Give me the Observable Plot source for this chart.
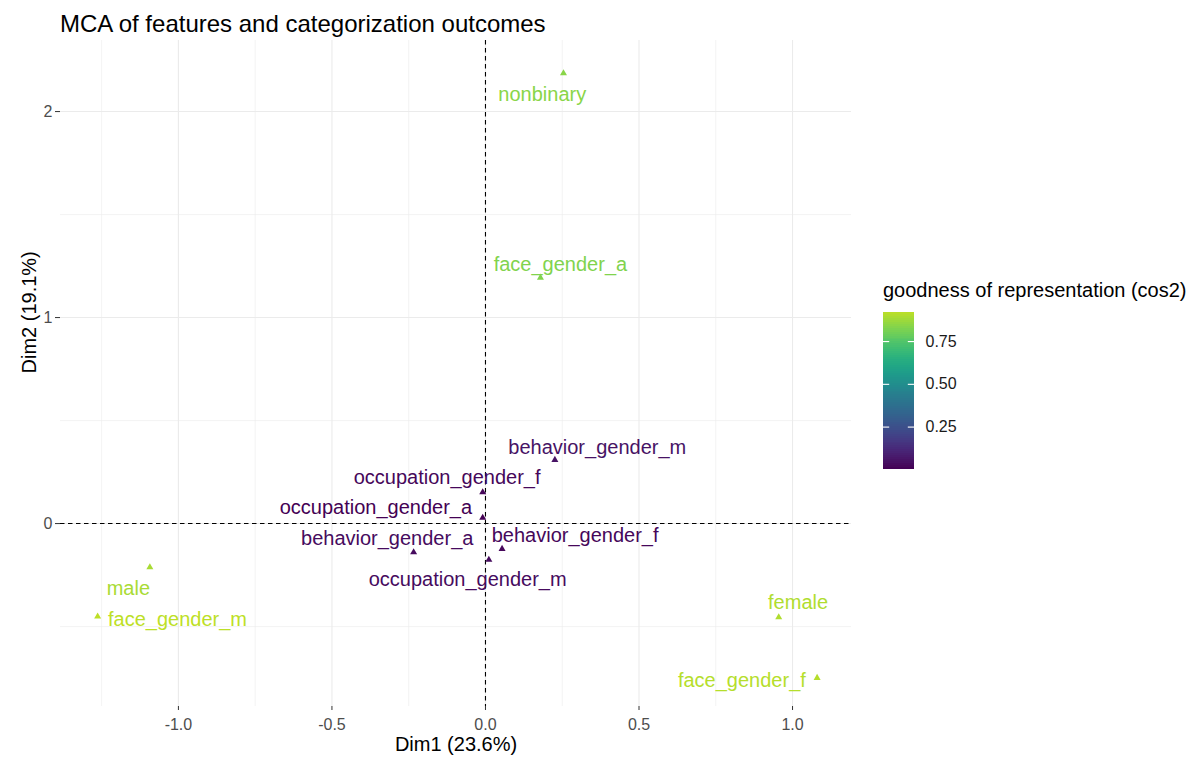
<!DOCTYPE html>
<html>
<head>
<meta charset="utf-8">
<script src="https://cdn.jsdelivr.net/npm/d3@7"></script>
<script src="https://cdn.jsdelivr.net/npm/@observablehq/plot@0.6"></script>
<style>
  html, body { margin: 0; padding: 0; background: white; }
  #wrap { position: relative; width: 1200px; height: 765px; font-family: "Liberation Sans", Arial, sans-serif; overflow: hidden; }
  #wrap > svg, #wrap > figure { position: absolute; left: 0; top: 0; margin: 0; }
  #title { position: absolute; left: 60px; top: 12px; font-size: 24px; line-height: 24px; color: #000; white-space: nowrap; }
  #legendTitle { position: absolute; left: 883px; top: 280px; font-size: 20px; line-height: 20px; color: #000; white-space: nowrap; }
  #legend { position: absolute; left: 860px; top: 300px; }
</style>
</head>
<body>
<div id="wrap">
  <div id="title">MCA of features and categorization outcomes</div>
  <div id="legendTitle">goodness of representation (cos2)</div>
  <div id="legend"></div>
</div>
<script>
// ---- data ----
const categories = ["nonbinary", "face_gender_a", "behavior_gender_m", "occupation_gender_f",
  "occupation_gender_a", "behavior_gender_a", "behavior_gender_f", "occupation_gender_m",
  "male", "face_gender_m", "female", "face_gender_f"];
const dim1 = [0.254, 0.179, 0.226, -0.009, -0.009, -0.234, 0.054, 0.011, -1.093, -1.263, 0.955, 1.080];
const dim2 = [2.186, 1.194, 0.309, 0.152, 0.028, -0.139, -0.123, -0.176, -0.212, -0.451, -0.455, -0.749];
const cos2 = [0.84, 0.83, 0.05, 0.02, 0.002, 0.03, 0.02, 0.03, 0.89, 0.92, 0.90, 0.91];
// repelled label positions (in Dim units)
const labelDim1 = [0.185, 0.244, 0.364, -0.125, -0.357, -0.320, 0.292, -0.058, -1.163, -1.003, 1.018, 0.835];
const labelDim2 = [2.081, 1.259, 0.369, 0.224, 0.078, -0.071, -0.060, -0.273, -0.314, -0.464, -0.383, -0.764];
const xTicks = [-1, -0.5, 0, 0.5, 1];
const yTicks = [0, 1, 2];
const xMinor = [-1.25, -0.75, -0.25, 0.25, 0.75];
const yMinor = [-0.5, 0.5, 1.5];
const legendTicks = [0.25, 0.5, 0.75];
const xTitle = "Dim1 (23.6%)";
const yTitle = "Dim2 (19.1%)";

const rows = categories.map((name, i) => ({name, x: dim1[i], y: dim2[i], cos2: cos2[i], lx: labelDim1[i], ly: labelDim2[i]}));
const cmin = d3.min(cos2), cmax = d3.max(cos2);
const colorOpts = {type: "linear", domain: [cmin, cmax], interpolate: t => d3.interpolateViridis(0.9 * t)};
const font = "Liberation Sans, Arial, sans-serif";

const chart = Plot.plot({
  width: 1200, height: 765,
  marginLeft: 60, marginRight: 349, marginTop: 40, marginBottom: 59,
  style: {fontFamily: font, background: "transparent", overflow: "visible"},
  x: {domain: [-1.384, 1.192]},
  y: {domain: [-0.888, 2.345]},
  color: colorOpts,
  marks: [
    Plot.ruleX(xMinor, {stroke: "#ebebeb", strokeWidth: 0.6}),
    Plot.ruleY(yMinor, {stroke: "#ebebeb", strokeWidth: 0.6}),
    Plot.ruleX(xTicks, {stroke: "#ebebeb", strokeWidth: 1.1}),
    Plot.ruleY(yTicks, {stroke: "#ebebeb", strokeWidth: 1.1}),
    Plot.ruleX([0], {stroke: "black", strokeWidth: 1.1, strokeDasharray: "4.5,3.5"}),
    Plot.ruleY([0], {stroke: "black", strokeWidth: 1.1, strokeDasharray: "4.5,3.5"}),
    Plot.axisX(xTicks, {tickSize: 4, tickPadding: 8, fontSize: 16, fill: "#4d4d4d", stroke: "#333", tickFormat: d => d.toFixed(1), label: null}),
    Plot.axisY(yTicks, {tickSize: 5, tickPadding: 3, fontSize: 16, fill: "#4d4d4d", stroke: "#333", tickFormat: d => String(d), label: null}),
    Plot.dot(rows, {x: "x", y: "y", fill: "cos2", symbol: "triangle", r: 2.6}),
    Plot.text(rows, {x: "lx", y: "ly", text: "name", fill: "cos2", fontSize: 20}),
    Plot.text([xTitle], {frameAnchor: "bottom", dy: 44, fontSize: 20, fill: "black"}),
    Plot.text([yTitle], {frameAnchor: "left", dx: -31, rotate: -90, fontSize: 20, fill: "black"})
  ]
});
document.getElementById("wrap").insertBefore(chart, document.getElementById("title"));

// ---- colour legend (vertical colourbar) ----
const nSteps = 80;
const steps = d3.range(nSteps).map(i => {
  const a = cmin + (cmax - cmin) * i / nSteps;
  const b = cmin + (cmax - cmin) * (i + 1) / nSteps;
  return {a, b: Math.min(cmax, b + (cmax - cmin) * 0.01), mid: (a + b) / 2};
});
const legend = Plot.plot({
  width: 120, height: 190,
  marginLeft: 23, marginRight: 66, marginTop: 12, marginBottom: 21,
  style: {fontFamily: font, background: "transparent", overflow: "visible"},
  x: {domain: [0, 1], axis: null},
  y: {domain: [cmin, cmax]},
  color: colorOpts,
  marks: [
    Plot.rect(steps, {x1: 0, x2: 1, y1: "a", y2: "b", fill: "mid", shapeRendering: "crispEdges"}),
    Plot.ruleY(legendTicks, {x1: 0, x2: 0.2, stroke: "white", strokeWidth: 1.1}),
    Plot.ruleY(legendTicks, {x1: 0.8, x2: 1, stroke: "white", strokeWidth: 1.1}),
    Plot.axisY(legendTicks, {anchor: "right", tickSize: 0, tickPadding: 11, fontSize: 16, fill: "#1a1a1a", tickFormat: d => d.toFixed(2), label: null})
  ]
});
document.getElementById("legend").appendChild(legend);
</script>
</body>
</html>
